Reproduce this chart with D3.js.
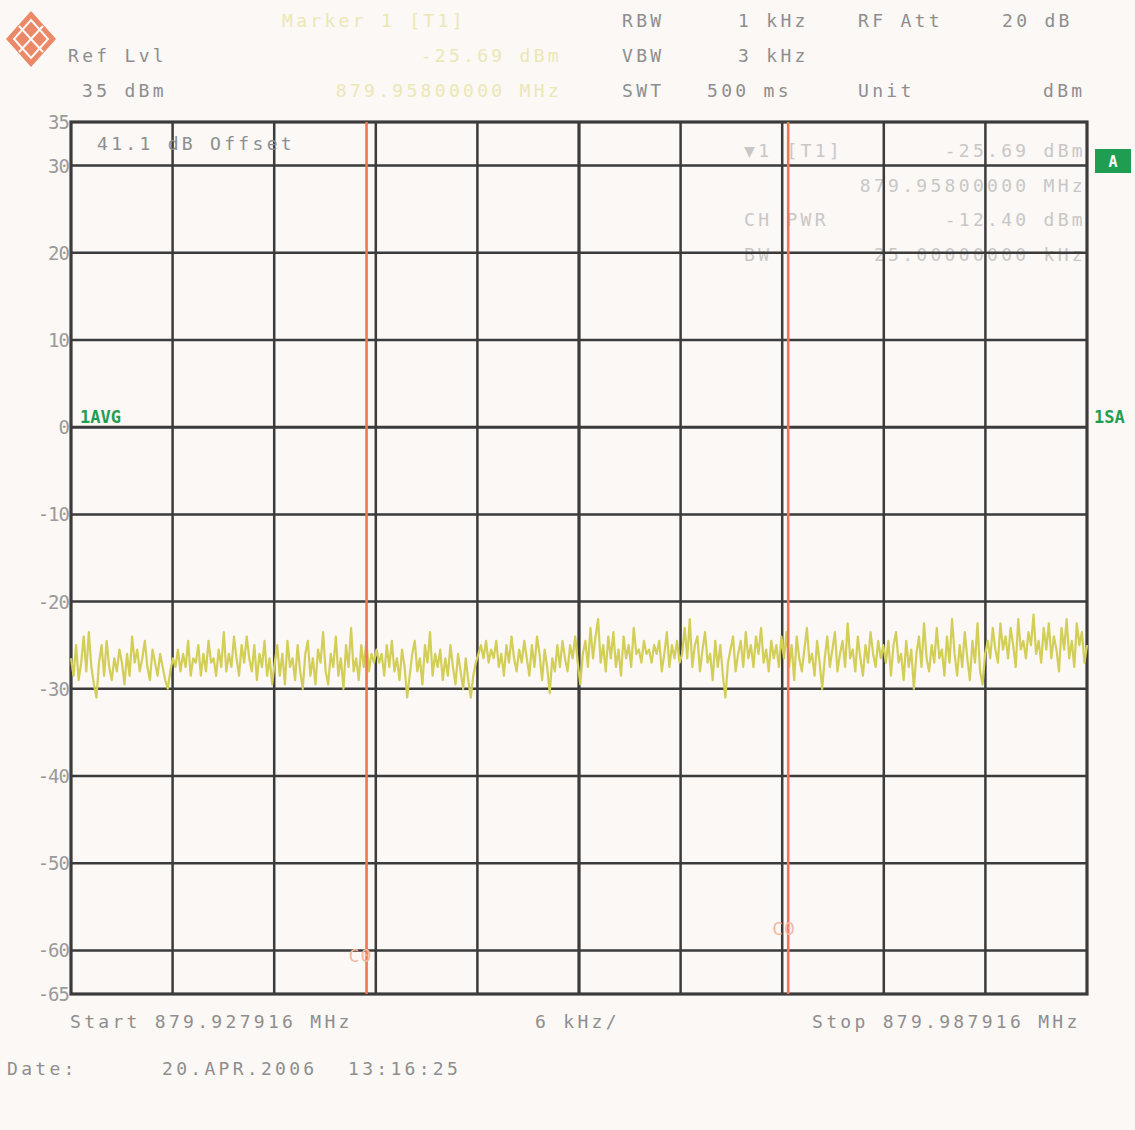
<!DOCTYPE html>
<html>
<head>
<meta charset="utf-8">
<script src="https://cdn.jsdelivr.net/npm/d3@7"></script>
<style>
  html, body { margin: 0; padding: 0; background: #fbf8f6; }
  svg { display: block; }
  text { font-family: "DejaVu Sans Mono", "Liberation Mono", monospace; }
</style>
</head>
<body>
<svg id="chart" width="1135" height="1130"></svg>
<script>
// ---------------- data ----------------
const startFreq = 879.927916;   // MHz
const stopFreq  = 879.987916;   // MHz
const refLevel  = 35;           // dBm
const bottomLevel = -65;        // dBm
const yTickValues = [35, 30, 20, 10, 0, -10, -20, -30, -40, -50, -60, -65];
const xGridCount = 10;          // 6 kHz / div
const channelLines = [879.94537, 879.97027]; // C0 lines (MHz)
const channelLabels = ["C0", "C0"];

// trace (dBm), left to right across the span (40 per division)
const traceLevels = [
  -26.5,-28.5,-25.0,-29.0,-27.0,-24.0,-28.0,-23.5,-27.5,-29.5,-31.0,-27.0,-25.0,-28.5,-24.5,-27.5,-29.0,-26.5,-28.0,-25.5,-27.0,-29.5,-26.0,-28.5,-24.0,-27.0,-25.5,-28.0,-26.5,-24.5,-27.5,-29.0,-25.5,-27.0,-28.5,-26.0,-27.5,-29.0,-30.0,-28.0,
  -26.5,-27.5,-25.5,-28.0,-26.0,-27.5,-24.5,-28.5,-26.5,-27.0,-25.0,-28.5,-26.0,-28.0,-24.5,-27.0,-26.5,-28.5,-25.5,-27.5,-23.5,-28.0,-26.0,-27.5,-24.0,-26.5,-28.5,-25.0,-27.0,-24.0,-26.5,-28.0,-25.0,-29.0,-26.0,-27.5,-24.5,-28.5,-26.5,-29.5,
  -27.0,-25.0,-28.5,-26.0,-29.5,-24.5,-27.5,-26.5,-29.0,-25.0,-28.0,-30.0,-26.0,-24.5,-28.5,-26.5,-29.5,-25.5,-27.0,-23.5,-28.0,-29.5,-26.0,-27.5,-24.0,-28.5,-26.5,-30.0,-25.0,-27.5,-23.0,-28.0,-26.5,-29.0,-25.0,-27.5,-24.5,-28.0,-26.0,-27.0,
  -25.5,-27.0,-26.0,-28.5,-25.0,-27.5,-24.5,-28.0,-26.5,-29.0,-25.5,-27.5,-31.0,-28.5,-26.0,-24.5,-28.0,-26.5,-29.5,-25.0,-27.0,-23.5,-28.5,-26.0,-27.5,-25.5,-29.0,-26.5,-28.5,-25.0,-27.5,-29.5,-26.0,-28.0,-30.0,-26.5,-29.0,-31.0,-28.5,-27.0,
  -26.0,-25.0,-26.5,-24.5,-27.0,-25.5,-26.5,-24.5,-27.5,-26.0,-28.5,-25.0,-27.0,-24.0,-26.5,-28.0,-25.5,-27.0,-24.5,-26.5,-28.5,-25.0,-27.5,-24.0,-26.0,-29.0,-25.5,-27.5,-30.5,-26.5,-28.0,-25.0,-27.5,-24.5,-26.5,-28.0,-25.0,-26.5,-24.0,-27.0,
  -29.5,-26.0,-24.5,-27.5,-23.0,-26.5,-24.0,-22.0,-27.0,-25.0,-28.0,-24.0,-26.5,-23.5,-27.5,-25.5,-28.5,-24.0,-26.5,-25.0,-27.5,-23.0,-26.0,-25.5,-27.0,-24.5,-26.0,-25.5,-27.0,-25.0,-26.0,-24.5,-28.0,-26.0,-23.5,-27.5,-25.0,-26.5,-24.5,-27.0,
  -26.0,-23.0,-26.5,-22.0,-27.5,-25.0,-24.0,-28.0,-25.5,-23.5,-27.0,-26.0,-29.0,-24.5,-27.5,-25.0,-28.5,-31.0,-27.0,-25.5,-24.0,-28.0,-26.0,-24.5,-27.5,-23.5,-26.5,-25.0,-27.5,-24.0,-26.0,-23.0,-27.0,-25.5,-28.0,-24.5,-26.5,-25.0,-27.5,-24.0,
  -26.5,-23.5,-27.5,-25.0,-29.0,-24.0,-26.5,-28.0,-25.5,-23.0,-27.0,-26.0,-28.5,-24.5,-27.0,-30.0,-26.5,-24.0,-27.5,-25.5,-23.5,-28.0,-26.0,-24.5,-27.5,-22.5,-26.5,-25.5,-28.0,-24.0,-26.5,-28.5,-25.0,-27.0,-23.5,-26.0,-27.5,-24.5,-26.5,-25.0,
  -27.0,-24.5,-28.5,-25.0,-23.5,-27.0,-26.0,-29.0,-24.5,-27.5,-25.5,-30.0,-26.0,-24.0,-27.5,-22.5,-26.5,-28.0,-25.0,-27.0,-23.0,-26.5,-25.5,-28.5,-24.0,-27.0,-22.0,-26.0,-28.5,-25.0,-27.5,-23.5,-26.5,-29.0,-24.5,-27.0,-22.5,-28.0,-29.5,-26.0,
  -24.5,-26.5,-23.0,-25.5,-27.0,-22.5,-25.5,-24.0,-26.5,-23.0,-25.0,-27.5,-22.0,-25.5,-24.5,-26.5,-23.5,-25.0,-21.5,-26.0,-24.5,-27.0,-23.0,-25.5,-22.5,-26.5,-24.0,-25.5,-28.0,-23.0,-25.5,-22.0,-26.5,-24.5,-27.5,-22.5,-25.0,-23.5,-27.0,-25.0
];

// header texts
const headerLeft = [["Ref Lvl", 68, 62], ["35 dBm", 82, 97]];
const markerHeader = ["Marker 1 [T1]", "-25.69 dBm", "879.95800000 MHz"];
const settingsCols = [
  ["RBW", 622, 27], ["1 kHz", 738, 27], ["RF Att", 858, 27], ["20 dB", 1002, 27],
  ["VBW", 622, 62], ["3 kHz", 738, 62],
  ["SWT", 622, 97], ["500 ms", 707, 97], ["Unit", 858, 97], ["dBm", 1043, 97]
];
const panelLeft = ["\u25BC1 [T1]", "", "CH PWR", "BW"];
const panelRight = ["-25.69 dBm", "879.95800000 MHz", "-12.40 dBm", "25.00000000 kHz"];
const offsetText = "41.1 dB Offset";
const bottomTexts = ["Start 879.927916 MHz", "6 kHz/", "Stop 879.987916 MHz"];
const dateTexts = ["Date:", "20.APR.2006", "13:16:25"];

// ---------------- drawing ----------------
const svg = d3.select("#chart");
const L = 71, R = 1087, T = 122, B = 994;

const x = d3.scaleLinear().domain([startFreq, stopFreq]).range([L, R]);
const y = d3.scaleLinear().domain([bottomLevel, refLevel]).range([B, T]);
const xIdx = d3.scaleLinear().domain([0, traceLevels.length - 1]).range([startFreq, stopFreq]);

const gray = "#8e8e8e";
const spacing = "3.3px";

function txt(s, px, py, opts = {}) {
  return svg.append("text")
    .attr("x", px).attr("y", py)
    .attr("font-size", opts.size || 18)
    .attr("fill", opts.fill || gray)
    .attr("text-anchor", opts.anchor || "start")
    .style("letter-spacing", opts.ls !== undefined ? opts.ls : spacing)
    .attr("font-weight", opts.weight || "normal")
    .text(s);
}

// logo (R&S diamond)
const logo = svg.append("g").attr("transform", "translate(31,39)");
logo.append("polygon").attr("points", "0,-28 25,0 0,28 -25,0").attr("fill", "#eb8867");
logo.append("polygon").attr("points", "0,-19 17,0 0,19 -17,0").attr("fill", "none").attr("stroke", "#fbf8f6").attr("stroke-width", 2);
logo.append("line").attr("x1", -12).attr("y1", -13).attr("x2", 12).attr("y2", 13).attr("stroke", "#fbf8f6").attr("stroke-width", 2);
logo.append("line").attr("x1", 12).attr("y1", -13).attr("x2", -12).attr("y2", 13).attr("stroke", "#fbf8f6").attr("stroke-width", 2);

// header
headerLeft.forEach(d => txt(d[0], d[1], d[2]));
const faintYellow = "#ece7b4";
txt(markerHeader[0], 282, 27, {fill: faintYellow});
txt(markerHeader[1], 562, 62, {fill: faintYellow, anchor: "end"});
txt(markerHeader[2], 562, 97, {fill: faintYellow, anchor: "end"});
settingsCols.forEach(d => txt(d[0], d[1], d[2]));

// panel texts (faint) – drawn under grid
const faint = "#c9c7c5";
panelLeft.forEach((s, i) => { if (s) txt(s, 744, 157 + i * 34.7, {fill: faint}); });
panelRight.forEach((s, i) => txt(s, 1086, 157 + i * 34.7, {fill: faint, anchor: "end"}));

// grid
const grid = svg.append("g").attr("stroke", "#3b3b3b");
yTickValues.filter(v => v !== refLevel && v !== bottomLevel).forEach(v => {
  grid.append("line").attr("x1", L).attr("x2", R).attr("y1", y(v)).attr("y2", y(v))
    .attr("stroke-width", v === 0 ? 3 : 2.5);
});
d3.range(1, xGridCount).forEach(i => {
  const f = startFreq + (stopFreq - startFreq) * i / xGridCount;
  grid.append("line").attr("x1", x(f)).attr("x2", x(f)).attr("y1", T).attr("y2", B)
    .attr("stroke-width", i === 5 ? 3.2 : 2.5);
});
grid.append("rect").attr("x", L).attr("y", T).attr("width", R - L).attr("height", B - T)
  .attr("fill", "none").attr("stroke-width", 3.2);

// y axis labels
yTickValues.forEach(v => {
  txt(String(v), 69, y(v) + 7, {anchor: "end", ls: "-1px", size: 19, fill: "#9a9a9a"});
});

// offset text
txt(offsetText, 97, 150);

// trace
const line = d3.line().x((d, i) => x(xIdx(i))).y(d => y(d));
svg.append("path").datum(traceLevels)
  .attr("d", line).attr("fill", "none")
  .attr("stroke", "#d2ce58").attr("stroke-width", 2.2).attr("stroke-linejoin", "round");

// channel lines
channelLines.forEach((f, i) => {
  svg.append("line").attr("x1", x(f)).attr("x2", x(f)).attr("y1", T).attr("y2", B)
    .attr("stroke", "#ef7654").attr("stroke-width", 2.6);
});
txt(channelLabels[0], x(channelLines[0]) - 18, 962, {fill: "#f0b9a3", ls: "1px"});
txt(channelLabels[1], x(channelLines[1]) - 16, 935, {fill: "#f0b9a3", ls: "1px"});

// green labels
const green = "#1f9e52";
txt("1AVG", 80, 423, {fill: green, ls: "0px", size: 17, weight: "bold"});
txt("1SA", 1094, 423, {fill: green, ls: "0px", size: 17, weight: "bold"});
svg.append("rect").attr("x", 1095).attr("y", 149).attr("width", 36).attr("height", 24).attr("fill", green);
txt("A", 1113, 167, {fill: "#ffffff", anchor: "middle", ls: "0px", size: 15, weight: "bold"});

// bottom texts
txt(bottomTexts[0], 70, 1028);
txt(bottomTexts[1], 535, 1028);
txt(bottomTexts[2], 812, 1028);
txt(dateTexts[0], 7, 1075);
txt(dateTexts[1], 162, 1075);
txt(dateTexts[2], 348, 1075);
</script>
</body>
</html>
